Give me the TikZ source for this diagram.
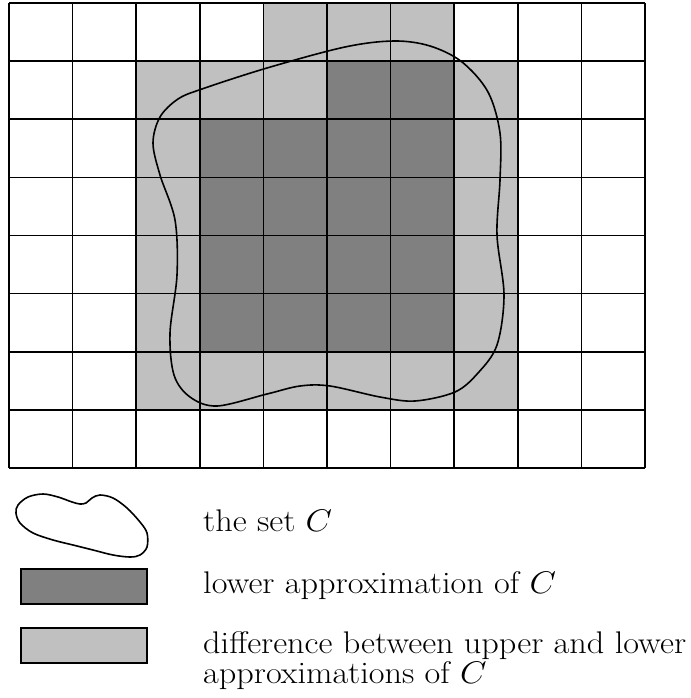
\documentclass[tikz,border=0pt]{standalone}
\usepackage{amsmath}
\DeclareFontShape{OML}{cmm}{m}{it}{<-> cmmi12}{}
\definecolor{darkcell}{HTML}{808080}
\definecolor{lightcell}{HTML}{C0C0C0}
\begin{document}
\begin{tikzpicture}[x=1pt,y=-1pt,
  gridline/.style={line width=1.7pt,black},
  setline/.style={line width=1.6pt,black},
  legtext/.style={anchor=base west,inner sep=0pt,xscale=1.094,transform shape,
    font=\fontsize{31.3}{30}\selectfont}]
\useasboundingbox (0,0) rectangle (690,698);
% grid cells
\begin{scope}[shift={(9,3)},x=63.6pt,y=-58.125pt]
  \fill[lightcell] (2,1) rectangle (8,7);
  \fill[lightcell] (4,0) rectangle (7,1);
  \fill[darkcell] (5,1) rectangle (7,2);
  \fill[darkcell] (3,2) rectangle (7,6);
  \foreach \i in {0,...,10} \draw[gridline] (\i,0) -- (\i,8);
  \foreach \j in {0,...,8} \draw[gridline] (0,\j) -- (10,\j);
\end{scope}
% the set C
\draw[setline] plot[smooth cycle,tension=0.55] coordinates {
  (202,89) (267,68) (345,47) (394,41) (430,46) (462,62) (488,92) (500,133)
  (500,180) (497,235) (504,295) (497,345) (478,373) (455,392) (415,401)
  (380,397) (330,386) (300,386) (267,394) (217,406) (190,397) (174,375)
  (170,333) (177,275) (175,220) (160,175) (153,143) (160,117) (178,99)};
% legend
\draw[setline] plot[smooth cycle,tension=0.55] coordinates {
  (18,505) (16,513) (20,523) (33,533) (53,540) (73,545) (93,550) (113,555)
  (130,557) (140,555) (147,547) (147,533) (140,522) (127,508) (113,498)
  (100,495) (92,498) (86,503) (80,504) (72,502) (58,497) (43,494) (28,497)};
\node[legtext] (t1) at (203,531) {the set $C$};
\draw[line width=1.5pt,fill=darkcell] (21,569) rectangle (147,604);
\node[legtext] (t2) at (203,593) {lower approximation of $C$};
\draw[line width=1.5pt,fill=lightcell] (21,628) rectangle (147,663);
\node[legtext] (t3) at (203,653) {difference between upper and lower};
\node[legtext] (t4) at (203,683) {approximations of $C$};
\end{tikzpicture}
\end{document}
